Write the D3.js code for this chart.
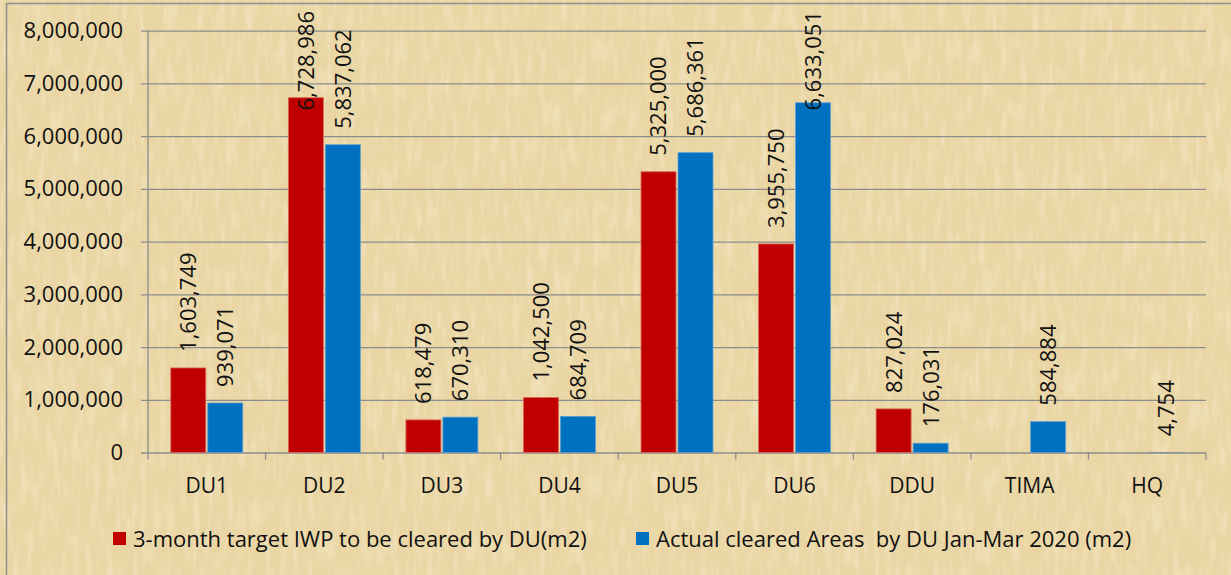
<!DOCTYPE html>
<html>
<head>
<meta charset="utf-8">
<script src="https://cdn.jsdelivr.net/npm/d3@7"></script>
<style>
  html, body { margin: 0; padding: 0; background: #ead6a4; }
  svg { display: block; font-family: "Open Sans", sans-serif; }
</style>
</head>
<body>
<svg id="chart" width="1231" height="575"></svg>
<script>
var categories = ['DU1', 'DU2', 'DU3', 'DU4', 'DU5', 'DU6', 'DDU', 'TIMA', 'HQ'];
var targetValues = [1603749, 6728986, 618479, 1042500, 5325000, 3955750, 827024, null, null];
var actualValues = [939071, 5837062, 670310, 684709, 5686361, 6633051, 176031, 584884, 4754];
var seriesNames = ['3-month target IWP to be cleared by DU(m2)', 'Actual cleared Areas  by DU Jan-Mar 2020 (m2)'];
var yTicks = [0, 1000000, 2000000, 3000000, 4000000, 5000000, 6000000, 7000000, 8000000];

var colors = ['#c00000', '#0070c0'];
var edges = ['#d86a5c', '#5a9fd4'];

var W = 1231, H = 575;
var plot = { left: 148, right: 1206, top: 30.7, bottom: 452.5 };
var gridColor = '#8c8c8c';

var svg = d3.select('#chart');
var defs = svg.append('defs');

// papyrus-like background: fine fibre layers over a tan base
function fibre(id, freq, seed, rgb, amt) {
    var f = defs.append('filter').attr('id', id)
        .attr('x', 0).attr('y', 0).attr('width', '100%').attr('height', '100%');
    f.append('feTurbulence').attr('type', 'fractalNoise')
        .attr('baseFrequency', freq).attr('numOctaves', 2).attr('seed', seed);
    f.append('feColorMatrix').attr('type', 'matrix')
        .attr('values', '0 0 0 0 ' + rgb[0] + ' 0 0 0 0 ' + rgb[1] + ' 0 0 0 0 ' + rgb[2] + ' ' + amt + ' 0 0 0 ' + (-amt * 0.45));
}
fibre('fibV', '0.22 0.012', 3, [0.80, 0.66, 0.38], 0.7);
fibre('fibH', '0.012 0.2', 7, [0.80, 0.67, 0.40], 0.6);
fibre('fibL', '0.15 0.03', 11, [0.99, 0.94, 0.80], 0.8);

svg.append('rect').attr('width', W).attr('height', H).attr('fill', '#ead6a4');
['fibV', 'fibH', 'fibL'].forEach(function(id) {
    svg.append('rect').attr('width', W).attr('height', H)
        .attr('filter', 'url(#' + id + ')');
});

// chart border (only top and left visible in the picture)
svg.append('path')
    .attr('d', 'M6.5,' + H + 'V3.5H' + W)
    .attr('fill', 'none').attr('stroke', '#8f8f8f').attr('stroke-width', 1.5);

var x0 = d3.scaleBand().domain(categories).range([plot.left, plot.right]);
var x1 = d3.scaleBand().domain([0, 1])
    .range([22.8, x0.bandwidth() - 22.8]).paddingInner(0.054);
var y = d3.scaleLinear().domain([0, 8000000]).range([plot.bottom, plot.top]);

// gridlines + y axis
var yAxis = d3.axisLeft(y).tickValues(yTicks).tickFormat(d3.format(','))
    .tickSize(-(plot.right - plot.left)).tickPadding(25);
var gy = svg.append('g').attr('transform', 'translate(' + plot.left + ',0)').call(yAxis);
gy.select('.domain').remove();
gy.selectAll('.tick line').attr('stroke', gridColor).attr('stroke-width', 1.3).attr('x1', -7);
gy.selectAll('.tick text').attr('font-size', 22).attr('fill', '#111')
    .attr('font-family', '"Open Sans", sans-serif');

svg.append('line').attr('x1', plot.left).attr('x2', plot.left)
    .attr('y1', plot.top).attr('y2', plot.bottom + 7)
    .attr('stroke', gridColor).attr('stroke-width', 1.3);

// category boundary ticks on the x axis
var bounds = categories.map(function(c) { return x0(c) + x0.bandwidth(); });
svg.selectAll('.xtick').data(bounds).enter().append('line')
    .attr('x1', function(d) { return d; }).attr('x2', function(d) { return d; })
    .attr('y1', plot.bottom).attr('y2', plot.bottom + 7)
    .attr('stroke', gridColor).attr('stroke-width', 1.3);

svg.selectAll('.xlabel').data(categories).enter().append('text')
    .attr('x', function(d) { return x0(d) + x0.bandwidth() / 2; })
    .attr('y', 493)
    .attr('text-anchor', 'middle').attr('font-size', 21).attr('fill', '#111')
    .text(function(d) { return d; });

// bars
var series = [targetValues, actualValues];
var rows = [];
series.forEach(function(vals, si) {
    vals.forEach(function(v, i) {
        if (v == null) return;
        rows.push({ cat: categories[i], s: si, v: v });
    });
});

svg.selectAll('.bar').data(rows).enter().append('rect')
    .attr('x', function(d) { return x0(d.cat) + x1(d.s); })
    .attr('width', x1.bandwidth())
    .attr('y', function(d) { return y(d.v); })
    .attr('height', function(d) { return y(0) - y(d.v); })
    .attr('fill', function(d) { return colors[d.s]; })
    .attr('stroke', function(d) { return (y(0) - y(d.v)) > 2 ? edges[d.s] : 'none'; })
    .attr('stroke-width', 0.8);

// rotated value labels, pushed down when they would leave the top
var fmt = d3.format(',');
svg.selectAll('.vlabel').data(rows).enter().append('text')
    .attr('font-size', 22).attr('fill', '#111')
    .attr('text-anchor', 'start').attr('dy', '0.36em')
    .text(function(d) { return fmt(d.v); })
    .each(function(d) {
        var len = this.getComputedTextLength();
        var cx = x0(d.cat) + x1(d.s) + x1.bandwidth() / 2;
        var ty = y(d.v) - 16;
        if (ty - len < 11) ty = 11 + len;
        d3.select(this).attr('transform', 'translate(' + cx + ',' + ty + ') rotate(-90)');
    });

// legend
var legendX = [113, 636];
seriesNames.forEach(function(name, i) {
    svg.append('rect').attr('x', legendX[i]).attr('y', 532)
        .attr('width', 13).attr('height', 13).attr('fill', colors[i]);
    svg.append('text').attr('x', legendX[i] + 20).attr('y', 546.5)
        .attr('font-size', 22).attr('fill', '#111')
        .attr('xml:space', 'preserve').style('white-space', 'pre')
        .text(name);
});
</script>
</body>
</html>
